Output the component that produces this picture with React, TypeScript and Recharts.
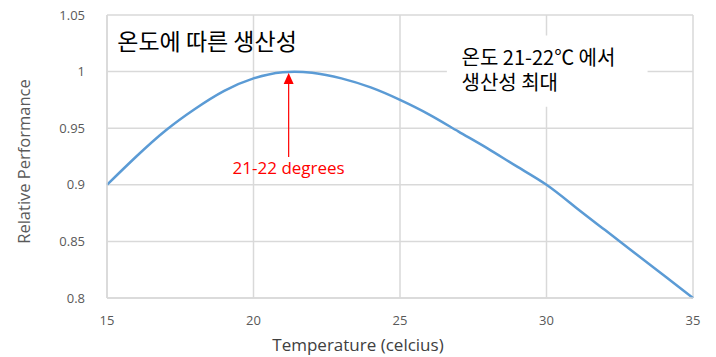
import {
  LineChart,
  Line,
  XAxis,
  YAxis,
  CartesianGrid,
  ReferenceArea,
  ReferenceDot,
  ReferenceLine,
} from "recharts";

const temps = [15, 16, 17, 18, 19, 20, 21, 22, 23, 24, 25, 26, 27, 28, 29, 30, 31, 32, 33, 34, 35];
const performance = [
  0.9, 0.925, 0.948, 0.967, 0.983, 0.994, 0.9995, 0.999, 0.994, 0.986, 0.975, 0.962,
  0.947, 0.932, 0.916, 0.9, 0.88, 0.86, 0.84, 0.82, 0.8,
];
const xTicks = [15, 20, 25, 30, 35];
const yTicks = [0.8, 0.85, 0.9, 0.95, 1, 1.05];

const chartData = temps.map((t, i) => ({ temp: t, perf: performance[i] }));

const axisFont = "'Open Sans', 'Liberation Sans', sans-serif";
const krFont = "'Noto Sans CJK KR', 'Noto Sans', sans-serif";

export default function App() {
  return (
    <div style={{ position: "absolute", left: 0, top: 0, background: "#fff" }}>
      <LineChart
        width={716}
        height={357}
        data={chartData}
        margin={{ top: 15, right: 23, bottom: 10, left: 0 }}
      >
        <CartesianGrid stroke="#d9d9d9" strokeWidth={1.5} />
        <XAxis
          dataKey="temp"
          type="number"
          domain={[15, 35]}
          ticks={xTicks}
          tickLine={false}
          axisLine={{ stroke: "#d9d9d9", strokeWidth: 1.5 }}
          tickMargin={12}
          height={49}
          tick={{ fill: "#595959", fontSize: 13, fontFamily: axisFont }}
          label={{
            content: (p: any) => {
              const vb = p.viewBox;
              return (
                <text
                  x={vb.x + vb.width / 2 - 42}
                  y={vb.y + 53}
                  textAnchor="middle"
                  fill="#404040"
                  fontSize={17}
                  fontFamily={axisFont}
                >
                  Temperature (celcius)
                </text>
              );
            },
          }}
        />
        <YAxis
          type="number"
          domain={[0.8, 1.05]}
          ticks={yTicks}
          tickLine={false}
          axisLine={{ stroke: "#d9d9d9", strokeWidth: 1.5 }}
          tickMargin={16}
          width={107}
          tick={{ fill: "#595959", fontSize: 13, fontFamily: axisFont }}
          label={{
            content: (p: any) => {
              const vb = p.viewBox;
              const cy = vb.y + vb.height / 2 + 5;
              return (
                <text
                  x={23}
                  y={cy}
                  transform={`rotate(-90 23 ${cy})`}
                  textAnchor="middle"
                  dominantBaseline="central"
                  fill="#595959"
                  fontSize={16.5}
                  fontFamily={axisFont}
                >
                  Relative Performance
                </text>
              );
            },
          }}
        />
        <ReferenceArea
          x1={26.6}
          x2={33.45}
          y1={0.969}
          y2={1.032}
          fill="#ffffff"
          fillOpacity={1}
          stroke="none"
        />
        <Line
          type="natural"
          dataKey="perf"
          stroke="#5b9bd5"
          strokeWidth={2.5}
          dot={false}
          isAnimationActive={false}
        />
        <ReferenceLine
          segment={[
            { x: 21.2, y: 0.9245 },
            { x: 21.2, y: 0.99 },
          ]}
          stroke="#ff0000"
          strokeWidth={1.2}
        />
        <ReferenceDot
          x={21.2}
          y={0.99}
          r={0}
          shape={(p: any) => (
            <path
              d={`M${p.cx},${p.cy - 10} L${p.cx - 5},${p.cy + 1} L${p.cx + 5},${p.cy + 1} Z`}
              fill="#ff0000"
            />
          )}
        />
        <ReferenceDot
          x={21.2}
          y={0.916}
          r={0}
          shape={(p: any) => (
            <text
              x={p.cx}
              y={p.cy + 7}
              textAnchor="middle"
              fill="#ff0000"
              fontSize={17}
              fontFamily={axisFont}
            >
              21-22 degrees
            </text>
          )}
        />
        <ReferenceDot
          x={15.35}
          y={1.026}
          r={0}
          shape={(p: any) => (
            <text x={p.cx} y={p.cy + 8} fill="#000" fontSize={23} fontFamily={krFont}>
              온도에 따른 생산성
            </text>
          )}
        />
        <ReferenceDot
          x={27.1}
          y={1.011}
          r={0}
          shape={(p: any) => (
            <g>
              <text x={p.cx} y={p.cy + 6} fill="#000" fontSize={20} fontFamily={krFont}>
                온도 21-22℃ 에서
              </text>
              <text x={p.cx} y={p.cy + 31} fill="#000" fontSize={20} fontFamily={krFont}>
                생산성 최대
              </text>
            </g>
          )}
        />
      </LineChart>
    </div>
  );
}
